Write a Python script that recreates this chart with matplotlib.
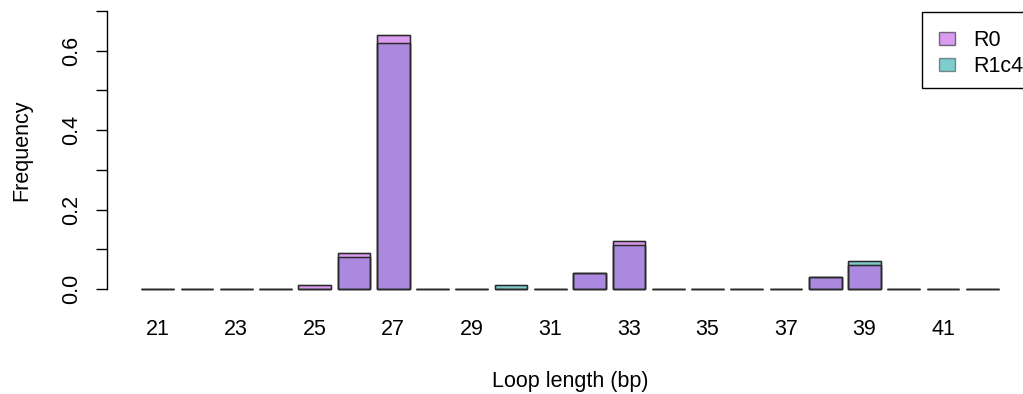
import matplotlib
matplotlib.use("Agg")
import matplotlib.pyplot as plt
from matplotlib.patches import Rectangle
import numpy as np

categories = list(range(21, 43))
r0 = [0, 0, 0, 0, 0.01, 0.09, 0.64, 0, 0, 0, 0, 0.04, 0.12, 0, 0, 0, 0, 0.03, 0.06, 0, 0, 0]
r1c4 = [0, 0, 0, 0, 0.0, 0.08, 0.62, 0, 0, 0.01, 0, 0.04, 0.11, 0, 0, 0, 0, 0.03, 0.07, 0, 0, 0]
tick_labels = [str(c) for c in categories[::2]]

plt.rcParams['font.family'] = ['Liberation Sans', 'DejaVu Sans']
FS = 15.5

W, H = 1023, 394
fig = plt.figure(figsize=(W / 100, H / 100), dpi=100)
left, right, top, bottom = 107, 1033, 0, 300
ax = fig.add_axes([left / W, 1 - bottom / H, (right - left) / W, (bottom - top) / H])

x = np.arange(len(categories))
c_r0 = (196 / 255, 98 / 255, 231 / 255)
c_r1 = (0 / 255, 155 / 255, 161 / 255)
edge = '#2a2a2a'
lw = 1.0
ax.bar(x, r1c4, width=1 / 1.2, color=c_r1, alpha=0.5, edgecolor=edge, linewidth=lw, label='R1c4')
ax.bar(x, r0, width=1 / 1.2, color=c_r0, alpha=0.63, edgecolor=edge, linewidth=lw, label='R0')
ax.bar(x, r1c4, width=1 / 1.2, fill=False, edgecolor=edge, linewidth=lw)
ax.bar(x, r0, width=1 / 1.2, fill=False, edgecolor=edge, linewidth=lw)

ax.set_xlim(-1.29, 22.29)
ax.set_ylim(-0.028, 0.728)
for s in ['top', 'right', 'bottom']:
    ax.spines[s].set_visible(False)
ax.spines['left'].set_bounds(0, 0.7)
ax.spines['left'].set_linewidth(1.0)
ax.set_yticks(np.arange(0, 0.71, 0.1))
ax.set_yticklabels(['0.0', '', '0.2', '', '0.4', '', '0.6', ''], rotation=90, va='center', fontsize=FS)
ax.tick_params(axis='y', length=8, width=1.0, pad=10)
ax.set_xticks(x[::2])
ax.set_xticklabels(tick_labels, fontsize=FS)
ax.tick_params(axis='x', length=0, pad=14)

fig.text((left + right) / 2 / W, 1 - 381 / H, 'Loop length (bp)', ha='center', va='center', fontsize=FS)
fig.text(22 / W, 1 - 150 / H, 'Frequency', ha='center', va='center', rotation=90, fontsize=FS)

# legend frame (R style, box clipped at the right edge)
fig.patches.append(Rectangle((922 / W, 1 - 88 / H), 120 / W, 76 / H, transform=fig.transFigure,
                             fill=False, edgecolor='black', linewidth=1.0))

handles, labels = ax.get_legend_handles_labels()
leg = ax.legend(handles[::-1], labels[::-1], loc='upper left', bbox_to_anchor=(939 / W, 1 - 30 / H),
                bbox_transform=fig.transFigure, frameon=False,
                fontsize=FS, handlelength=0.75, handleheight=0.57, borderpad=0, labelspacing=0.23,
                handletextpad=0.84, borderaxespad=0)
for h in leg.legend_handles:
    h.set_edgecolor('#2a2a2a')

fig.savefig('out.png', dpi=100)
